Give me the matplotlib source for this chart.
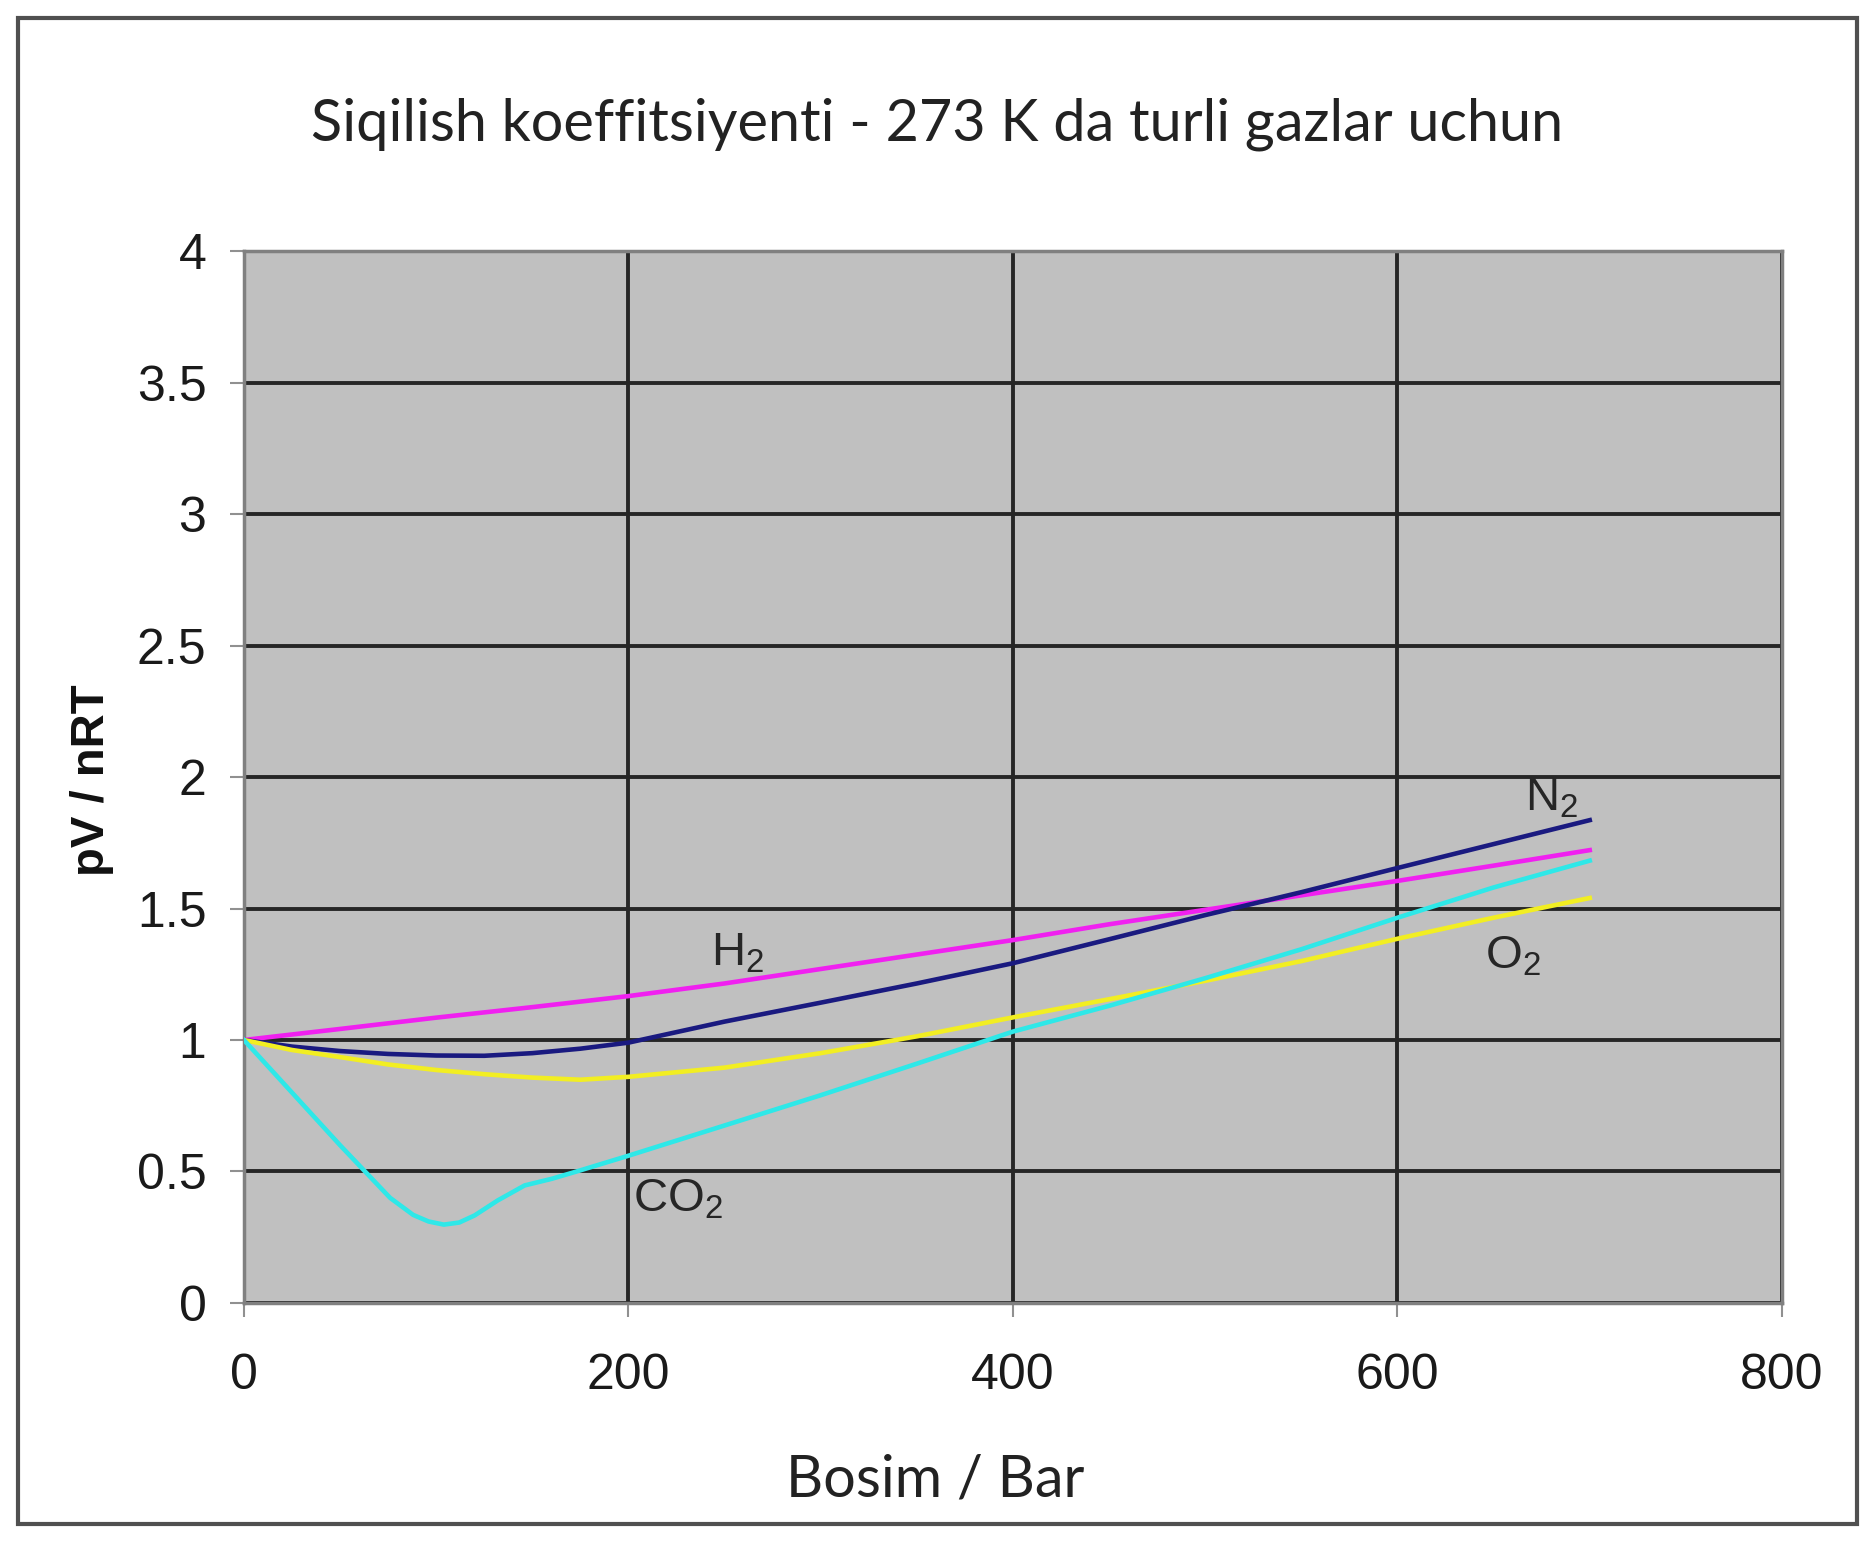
import matplotlib
matplotlib.use('Agg')
import matplotlib.pyplot as plt
from matplotlib.patches import Rectangle

# pressure (bar) and pV/nRT
p_h2 = [0, 50, 100, 150, 200, 250, 300, 350, 400, 450, 500, 550, 600, 650, 700]
z_h2 = [1.0, 1.042, 1.085, 1.125, 1.167, 1.215, 1.27, 1.325, 1.38, 1.44,
        1.495, 1.55, 1.605, 1.663, 1.722]

p_n2 = [0, 25, 50, 75, 100, 125, 150, 175, 200, 250, 300, 350, 400, 450,
        500, 550, 600, 650, 700]
z_n2 = [1.0, 0.975, 0.958, 0.947, 0.941, 0.94, 0.95, 0.967, 0.99, 1.07,
        1.142, 1.215, 1.292, 1.383, 1.475, 1.562, 1.654, 1.745, 1.836]

p_o2 = [0, 25, 50, 75, 100, 125, 150, 175, 200, 250, 300, 350, 400, 450,
        500, 550, 600, 650, 700]
z_o2 = [1.0, 0.962, 0.935, 0.907, 0.886, 0.87, 0.857, 0.849, 0.86, 0.895,
        0.95, 1.014, 1.086, 1.155, 1.225, 1.3, 1.385, 1.465, 1.54]

p_co2 = [0, 25, 50, 63, 76, 88, 96, 104, 112, 120, 132, 146, 160, 173, 200,
         250, 300, 350, 400, 450, 500, 550, 600, 650, 700]
z_co2 = [1.0, 0.8, 0.6, 0.5, 0.4, 0.335, 0.31, 0.298, 0.306, 0.333, 0.39,
         0.447, 0.472, 0.5, 0.56, 0.675, 0.79, 0.91, 1.032, 1.13, 1.235,
         1.345, 1.465, 1.58, 1.682]

x_ticks = [0, 200, 400, 600, 800]
y_ticks = [0, 0.5, 1, 1.5, 2, 2.5, 3, 3.5, 4]
y_ticklabels = ['0', '0.5', '1', '1.5', '2', '2.5', '3', '3.5', '4']

title = 'Siqilish koeffitsiyenti - 273 K da turli gazlar uchun'
xlabel = 'Bosim / Bar'
ylabel = 'pV / nRT'

plt.rcParams['mathtext.fontset'] = 'custom'
plt.rcParams['mathtext.rm'] = 'Liberation Sans'

fig = plt.figure(figsize=(18.75, 15.42), dpi=100)
fig.patch.set_facecolor('white')
ax = fig.add_axes([0.1301, 0.155, 0.8203, 0.6822])
ax.set_facecolor('#c0c0c0')

ax.plot(p_h2, z_h2, color='#f020f0', lw=3.3, zorder=3)
ax.plot(p_n2, z_n2, color='#1a1a80', lw=3.3, zorder=3)
ax.plot(p_o2, z_o2, color='#f2ee22', lw=3.3, zorder=3)
ax.plot(p_co2, z_co2, color='#2ee8e8', lw=3.3, zorder=3)

ax.set_xlim(0, 800)
ax.set_ylim(0, 4)
ax.set_xticks(x_ticks)
ax.set_yticks(y_ticks)
ax.set_yticklabels(y_ticklabels)
ax.grid(True, color='#262626', lw=2.8, zorder=1)
ax.set_axisbelow(True)
for s in ax.spines.values():
    s.set_color('#808080')
    s.set_linewidth(2.5)
ax.tick_params(axis='both', length=10, width=1.5, color='#909090',
               labelsize=36, labelcolor='#1a1a1a')
ax.tick_params(axis='y', pad=17)
ax.tick_params(axis='x', pad=26)
for lab in ax.get_xticklabels() + ax.get_yticklabels():
    lab.set_family('Liberation Sans')

lab_kw = dict(fontsize=34, color='#262626', ha='center', va='center',
              family='Liberation Sans', zorder=4)
ax.text(257, 1.33, r'$\mathregular{H_2}$', **lab_kw)
ax.text(680, 1.92, r'$\mathregular{N_2}$', **lab_kw)
ax.text(660, 1.316, r'$\mathregular{O_2}$', **lab_kw)
ax.text(226, 0.395, r'$\mathregular{CO_2}$', **lab_kw)

fig.text(0.5, 0.9092, title, ha='center', va='baseline', fontsize=41.5,
         family='Lato', color='#222222')
fig.text(0.4987, 0.0292, xlabel, ha='center', va='baseline', fontsize=41.5,
         family='Lato', color='#222222')
fig.text(0.049, 0.494, ylabel, ha='center', va='center', rotation=90,
         fontsize=34, fontweight='bold', family='Liberation Sans',
         color='#111111')

fig.patches.append(Rectangle((18 / 1875, 1 - 1524 / 1542), 1839 / 1875,
                             1506 / 1542, transform=fig.transFigure,
                             fill=False, edgecolor='#505050', lw=3))

fig.savefig('out.png', dpi=100)
